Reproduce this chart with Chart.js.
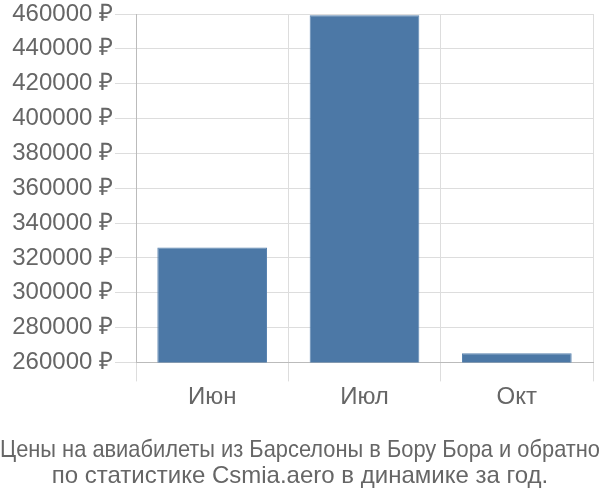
<!DOCTYPE html>
<html>
<head>
<meta charset="utf-8">
<script src="https://cdn.jsdelivr.net/npm/chart.js@4/dist/chart.umd.min.js"></script>
<style>
  html, body { margin: 0; padding: 0; background: #fff; }
  #wrap { width: 600px; height: 500px; }
</style>
</head>
<body>
<div id="wrap"><canvas id="chart"></canvas></div>
<script>
const months = ['Июн', 'Июл', 'Окт'];
const prices = [325900, 459300, 265200];
const yMin = 260000;
const yMax = 460000;
const yStep = 20000;
const titleLines = [
  'Цены на авиабилеты из Барселоны в Бору Бора и обратно',
  'по статистике Csmia.aero в динамике за год.'
];

Chart.defaults.font.family = '"Liberation Sans", Arial, sans-serif';
Chart.defaults.color = '#666';

new Chart(document.getElementById('chart'), {
  type: 'bar',
  data: {
    labels: months,
    datasets: [{
      data: prices,
      backgroundColor: '#4c78a6',
      borderColor: '#5a84b0',
      borderWidth: 1,
      barPercentage: 0.72,
      categoryPercentage: 1
    }]
  },
  options: {
    responsive: true,
    maintainAspectRatio: false,
    animation: false,
    layout: { padding: 0 },
    plugins: {
      legend: { display: false },
      tooltip: { enabled: false },
      title: {
        display: true,
        position: 'bottom',
        text: titleLines,
        color: '#666',
        font: { size: 24, weight: 'normal', lineHeight: 1.1 },
        padding: { top: 23, bottom: 10 }
      }
    },
    scales: {
      x: {
        grid: { color: '#ddd', offset: true, tickLength: 19 },
        border: { color: '#bbb' },
        ticks: { font: { size: 24 }, color: '#666', padding: 2 }
      },
      y: {
        min: yMin,
        max: yMax,
        grid: { color: '#ddd', tickLength: 21 },
        border: { color: '#bbb' },
        ticks: {
          stepSize: yStep,
          font: { size: 24, lineHeight: 1 },
          color: '#666',
          padding: 2,
          callback: v => v + ' ₽'
        },
        afterFit: s => { s.width = 136; }
      },
      // empty axis, only keeps a small gap on the right
      gap: {
        position: 'right',
        grid: { display: false },
        border: { display: false },
        ticks: { display: false },
        afterFit: s => { s.width = 7; }
      }
    }
  }
});
</script>
</body>
</html>
